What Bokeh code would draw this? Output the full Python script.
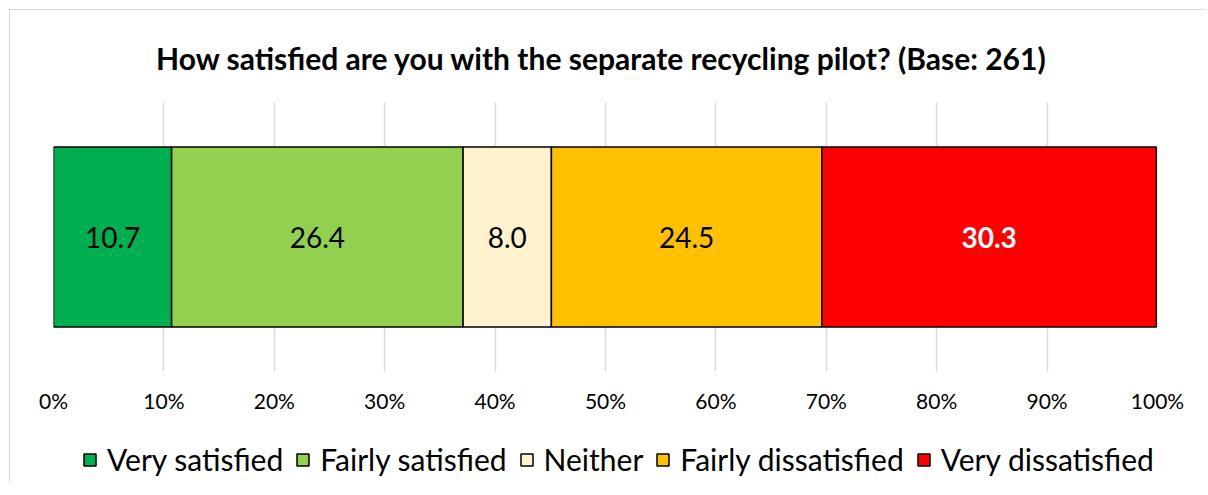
from bokeh.plotting import figure
from bokeh.layouts import column
from bokeh.models import Range1d, FactorRange, Legend, LegendItem, PrintfTickFormatter, FixedTicker, ColumnDataSource, Title
from bokeh.core.properties import value
from bokeh.embed import file_html
from bokeh.resources import INLINE

categories = ["Very satisfied", "Fairly satisfied", "Neither", "Fairly dissatisfied", "Very dissatisfied"]
values = [10.7, 26.4, 8.0, 24.5, 30.3]
colors = ["#00B050", "#92D050", "#FFF2CC", "#FFC000", "#FF0000"]
label_colors = ["black", "black", "black", "black", "white"]
label_styles = ["normal", "normal", "normal", "normal", "bold"]
ticks = [0, 10, 20, 30, 40, 50, 60, 70, 80, 90, 100]
title_text = "How satisfied are you with the separate recycling pilot?  (Base: 261)"
row_name = ["pilot"]

FONT = "Lato"

p = figure(width=1196, height=420, output_backend="svg", toolbar_location=None,
           x_range=Range1d(0, 100), y_range=row_name,
           min_border_left=43, min_border_right=49, min_border_top=92, min_border_bottom=59)

p.title = Title(text=title_text, align="center", text_font=FONT, text_font_size="30px",
                text_font_style="bold", text_color="black", standoff=54)

lefts = []
acc = 0.0
for v in values:
    lefts.append(acc)
    acc += v
rights = [l + v for l, v in zip(lefts, values)]
mids = [(l + r) / 2 for l, r in zip(lefts, rights)]

src = ColumnDataSource(dict(y=row_name * len(values), mid=mids, txt=["%.1f" % v for v in values],
                            tc=label_colors, ts=label_styles))

for i in range(len(values)):
    p.hbar(y=[row_name[0]], left=[lefts[i]], right=[rights[i]], height=0.67,
           fill_color=colors[i], line_color="black", line_width=1.5)

p.text(x="mid", y="y", text="txt", source=src, text_align="center", text_baseline="middle",
       text_font=value(FONT), text_font_size="28px", text_color="tc", text_font_style="ts")

p.xaxis.ticker = FixedTicker(ticks=ticks)
p.xaxis.formatter = PrintfTickFormatter(format="%d%%")
p.xaxis.axis_line_color = None
p.xaxis.major_tick_line_color = None
p.xaxis.minor_tick_line_color = None
p.xaxis.major_label_standoff = 10
p.xaxis.major_label_text_font = FONT
p.xaxis.major_label_text_font_size = "21px"
p.xaxis.major_label_text_color = "black"
p.yaxis.visible = False

p.xgrid.grid_line_color = "#d9d9d9"
p.xgrid.grid_line_width = 1.5
p.ygrid.grid_line_color = None
p.outline_line_color = None
p.background_fill_color = "white"
p.border_fill_color = "white"

# legend strip below the chart: the same series as a hidden renderer, used only for the legend swatches
q = figure(width=1196, height=53, output_backend="svg", toolbar_location=None,
           x_range=Range1d(0, 100), y_range=FactorRange(factors=categories),
           min_border_left=0, min_border_right=0, min_border_top=0, min_border_bottom=0)
q.axis.visible = False
q.grid.visible = False
q.outline_line_color = None
q.background_fill_color = "white"
q.border_fill_color = "white"

lsrc = ColumnDataSource(dict(cat=categories, val=values, color=colors))
sw = q.hbar(y="cat", left=0, right="val", height=0.5, source=lsrc,
            fill_color="color", line_color="black", line_width=1.5)
sw.visible = False

legend = Legend(items=[LegendItem(label=c, renderers=[sw], index=i) for i, c in enumerate(categories)],
                orientation="horizontal", location=(29, 6),
                label_text_font=FONT, label_text_font_size="30px", label_text_color="black",
                glyph_width=15, glyph_height=15, label_standoff=10, spacing=12,
                inactive_fill_alpha=0,
                border_line_color=None, background_fill_alpha=0, padding=0, margin=0)
q.add_layout(legend, "center")

layout = column(p, q, spacing=0, margin=(9, 0, 0, 9),
                styles={"border-left": "1px solid #d9d9d9", "border-top": "1px solid #d9d9d9"})

open("out.html", "w").write(file_html(layout, INLINE))
